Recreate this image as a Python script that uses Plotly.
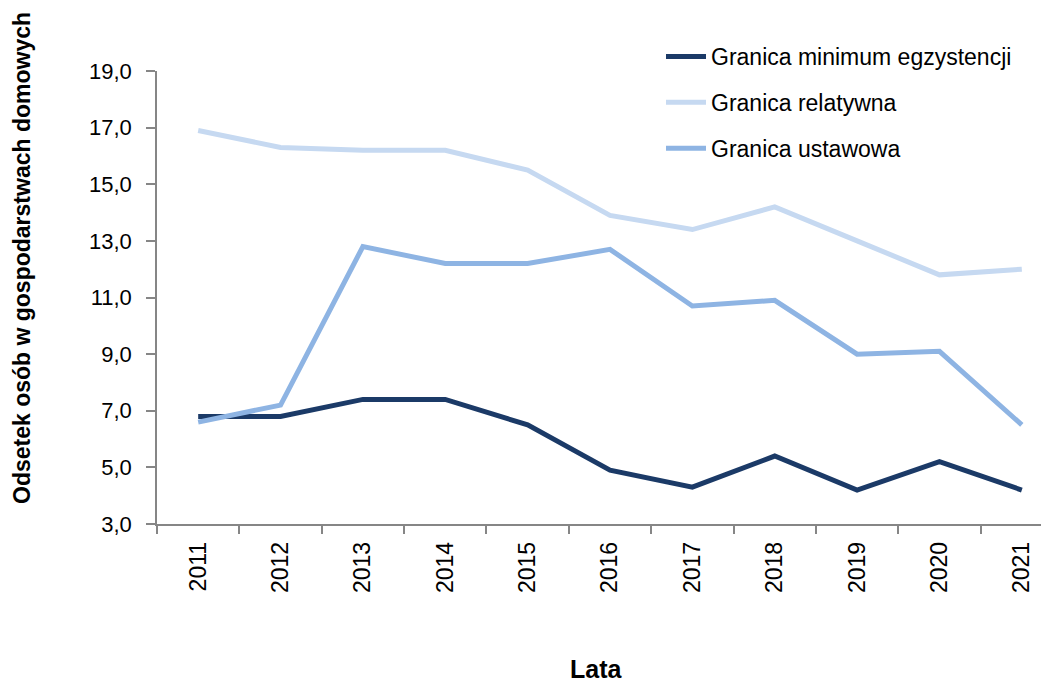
import plotly.graph_objects as go

years = ["2011", "2012", "2013", "2014", "2015", "2016", "2017", "2018", "2019", "2020", "2021"]
minimum_egz = [6.8, 6.8, 7.4, 7.4, 6.5, 4.9, 4.3, 5.4, 4.2, 5.2, 4.2]
relatywna = [16.9, 16.3, 16.2, 16.2, 15.5, 13.9, 13.4, 14.2, 13.0, 11.8, 12.0]
ustawowa = [6.6, 7.2, 12.8, 12.2, 12.2, 12.7, 10.7, 10.9, 9.0, 9.1, 6.5]
y_ticks = [3, 5, 7, 9, 11, 13, 15, 17, 19]

series = [
    ("Granica minimum egzystencji", minimum_egz, "#1B3A67"),
    ("Granica relatywna", relatywna, "#C6D9F1"),
    ("Granica ustawowa", ustawowa, "#8EB4E3"),
]

FONT = "Liberation Sans, Arial, sans-serif"
W, H = 1041, 676  # page body has an 8px margin

fig = go.Figure()
for i, (name, vals, color) in enumerate(series):
    fig.add_trace(go.Scatter(
        x=years, y=vals, name=name, mode="lines",
        line=dict(color=color, width=5),
        legendgroup=f"g{i}",
    ))

fig.update_layout(
    width=W, height=H,
    margin=dict(l=149, r=0, t=63, b=160, autoexpand=False),
    paper_bgcolor="white", plot_bgcolor="white",
    separators=", ",
    font=dict(family=FONT, size=22, color="black"),
    showlegend=True,
    legend=dict(
        xref="container", yref="container",
        x=653 / W, y=1 - 27 / H, xanchor="left", yanchor="top",
        bgcolor="rgba(0,0,0,0)",
        font=dict(family=FONT, size=23, color="black"),
        tracegroupgap=13,
        itemwidth=40,
    ),
    xaxis=dict(
        type="category",
        range=[-0.5, 10.33],
        automargin=False,
        showline=True, linecolor="#868686", linewidth=1.5,
        ticks="outside", ticklen=8, tickcolor="#868686", tickwidth=1.5,
        tickson="boundaries",
        tickangle=-90,
        ticklabelstandoff=7,
        showgrid=False, zeroline=False,
        tickfont=dict(family=FONT, size=23, color="black"),
    ),
    yaxis=dict(
        range=[3, 19],
        automargin=False,
        tickvals=y_ticks,
        tickformat=".1f",
        showline=True, linecolor="#868686", linewidth=1.5,
        ticks="outside", ticklen=9, tickcolor="#868686", tickwidth=1.5,
        ticklabelstandoff=10,
        showgrid=False, zeroline=False,
        tickfont=dict(family=FONT, size=22, color="black"),
    ),
    annotations=[
        dict(
            text="<b>Odsetek osób w gospodarstwach domowych</b>",
            xref="paper", yref="paper",
            x=-135 / 892, y=(524 - 506) / 453,
            xanchor="center", yanchor="bottom",
            textangle=-90, showarrow=False,
            font=dict(family=FONT, size=23, color="black"),
        ),
        dict(
            text="<b>Lata</b>",
            xref="paper", yref="paper",
            x=(596 - 157) / 892, y=-(669 - 524) / 453,
            xanchor="center", yanchor="middle",
            showarrow=False,
            font=dict(family=FONT, size=25, color="black"),
        ),
    ],
)

fig.write_html("out.html")
